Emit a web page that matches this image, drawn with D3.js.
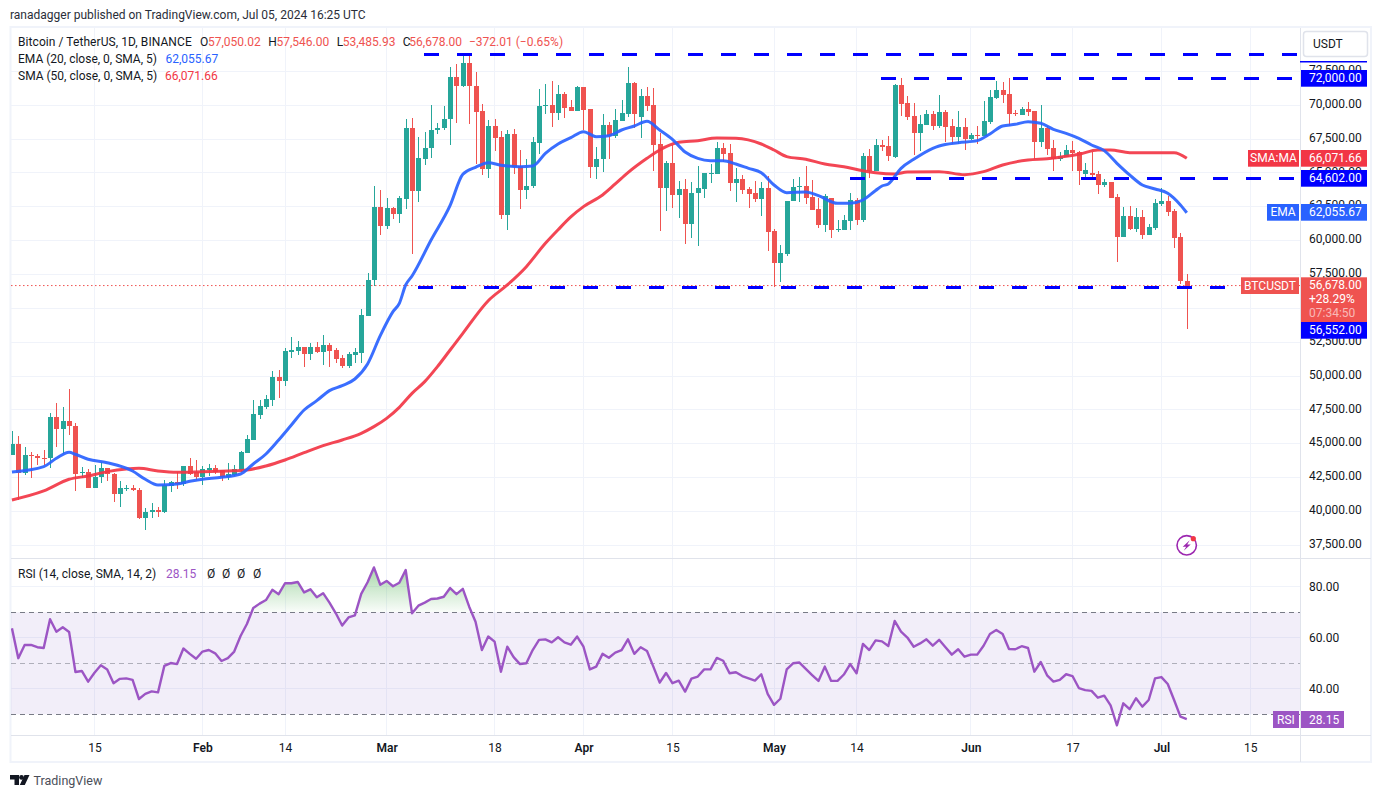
<!DOCTYPE html>
<html>
<head>
<meta charset="utf-8">
<script src="https://cdn.jsdelivr.net/npm/d3@7"></script>
<style>
  html, body { margin: 0; padding: 0; background: #fff; }
  svg { display: block; }
  text { font-family: Roboto, "Noto Sans", sans-serif; }
</style>
</head>
<body>
<script>
// daily BTCUSDT candles, first one is Jan 2 2024
const opens = [44170,44980,42865,44170,44120,43970,43950,46980,46090,46680,
  46310,42840,42890,41730,42550,43210,42770,41290,41690,41740,
  41580,39520,39960,40110,39960,41900,42180,42030,43360,42920,
  42550,43060,43210,43060,42550,42690,43060,44320,45280,47130,
  47710,48230,49930,49630,51800,51850,52120,51650,52120,51800,
  52290,51920,51300,50740,51550,51730,54460,57090,62460,61080,
  62410,61960,63080,68310,63660,66050,66810,68140,68310,68950,
  72080,71415,73113,71415,69570,65290,68460,67630,61915,67870,
  65510,63760,64000,67230,69940,70000,69420,70800,69860,69570,
  71340,69720,65460,66020,68530,67750,68860,69350,71640,69100,
  70680,70010,67130,63880,65730,63370,63790,61230,63490,63810,
  64940,64920,66840,66470,64250,64550,63810,63490,63070,63880,
  60710,58370,59040,62900,63930,64030,63240,62330,61150,63140,
  60790,60790,61470,62980,61520,66250,65160,67060,67000,66200,
  71490,70160,69200,67970,68530,69320,68490,69500,68460,67650,
  68390,67500,67770,67720,68760,70530,71120,70830,69420,69270,
  69710,69570,67280,68310,66840,66030,66150,66690,66540,64920,
  65000,64920,64100,64330,63220,60270,61820,60860,61740,60420,
  60930,62700,62930,62190,60270,57050.02];
const highs = [45940,45570,44760,44390,44240,44540,47270,48010,47710,49040,
  46530,43280,43140,43430,43650,43210,42840,42250,41930,41930,
  41730,40260,40630,40330,42320,42250,42910,43360,43950,43800,
  43360,43510,43430,43060,43580,43430,44470,45640,48230,48230,
  48600,50370,50440,52050,52860,52590,52120,52410,52490,53000,
  52410,52040,51530,51750,52050,54920,57580,64030,63750,63150,
  62460,63300,69000,69050,67630,68020,70010,68670,69940,72820,
  73040,73700,73777,72450,70090,68900,68950,68120,68170,68220,
  66690,66050,67620,71170,71560,71760,71460,71000,70380,71420,
  71340,69720,66930,69340,68780,69690,70380,72790,71740,71190,
  71320,71240,67920,65880,67060,64420,64530,64300,65510,65000,
  65660,67310,67180,67110,65340,64840,63960,64400,64300,64770,
  60830,59680,62900,64520,64670,65510,64470,63120,63440,63150,
  61500,61870,63490,63150,66440,66760,67500,67430,67720,71570,
  71980,70680,70160,69270,69640,69570,70750,69650,68980,69570,
  69050,67950,68460,70310,71120,71760,71690,72000,69640,69860,
  70230,69570,70010,68460,67430,66540,67060,67350,66620,65730,
  66540,65140,64550,64330,63440,62480,62550,62410,62260,61230,
  63070,63890,63300,62330,60560,57546];
const lows = [44170,40850,42690,42470,43430,43430,43210,44760,44240,45650,
  41510,42450,41730,41730,42080,42250,40700,40330,41510,41510,
  39450,38660,39520,39590,39890,41440,41660,41880,42690,42320,
  41950,42620,42770,42250,42320,42620,42910,44320,45280,46830,
  47570,47790,48380,49260,51330,51560,50690,51180,51730,50810,
  50690,50990,50620,50620,50940,50990,54460,56650,60420,60830,
  61590,61320,62340,59010,62880,65600,66120,67870,68170,67080,
  68710,71350,68610,65660,64850,64600,66620,61620,60810,64900,
  62360,63100,63860,66400,69350,68390,68900,69050,69570,69570,
  68170,64620,64560,65060,66030,67550,68860,69100,68290,67580,
  69590,65140,60710,62190,62380,61670,59750,60200,59630,63120,
  64270,64920,65800,63690,62870,63420,62430,62850,61820,59260,
  56600,56970,58890,62900,62850,62730,62260,60930,60640,60190,
  60630,60780,60780,61150,61400,64620,65160,66640,65900,66130,
  69200,68900,66320,66640,68530,68170,68310,67260,67130,67130,
  66690,67430,67130,67720,68610,70460,70160,68460,69200,69250,
  69200,66020,66910,66320,65140,65880,66150,65140,64110,64700,
  64620,63440,63960,63150,58420,60270,60780,60640,60120,60420,
  60780,62560,61820,59450,56800,53485.93];
const closes = [44980,42865,44170,44120,43970,43950,46980,46090,46680,46310,
  42770,42890,41730,42550,43210,42770,41290,41730,41740,41580,
  39520,39960,40110,39960,41960,42180,42030,43360,42770,42550,
  43110,43210,42910,42550,42770,43130,44390,45350,47200,47790,
  48300,49930,49630,51850,51950,52120,51650,52120,51770,52290,
  51850,51280,50740,51600,51770,54480,57090,62460,61080,62410,
  61960,63150,68310,63660,66100,66810,68140,68310,68950,72060,
  71430,73113,71380,69520,65290,68460,67550,61915,67870,65460,
  63760,64030,67280,69940,70000,69420,70800,69790,69570,71340,
  69640,65460,66020,68530,67750,68900,69420,71640,69350,70680,
  69940,67080,63880,65730,63370,63790,61230,63490,63880,64990,
  64960,66840,66390,64250,64550,63740,63470,63070,63880,60630,
  58370,59060,62900,63930,64030,63170,62260,61150,63270,60790,
  60860,61520,62980,61520,66250,65160,67060,66940,66250,71490,
  70090,69150,67970,68610,69320,68490,69500,68390,67650,68390,
  67500,67800,67720,68830,70600,71120,70750,69350,69370,69710,
  69490,67280,68310,66760,66030,66250,66690,66470,65140,65210,
  64850,64100,64330,63150,60270,61820,60860,61740,60420,61000,
  62780,62930,62110,60190,57020,56678];

// moving averages, at these bar numbers
const emaBars = [0,5,7,9,10,12,15,19,21,23,26,28,30,33,36,38,40,42,44,46,48,50,52,54,56,58,60,61,62,63,
  66,69,71,73,75,77,80,82,84,86,88,90,92,94,96,98,100,102,104,106,108,110,112,114,116,118,120,122,125,127,
  130,132,134,136,137,138,140,142,145,146,149,152,154,156,158,160,162,164,166,168,170,172,174,176,178,180,182,184,185];
const emaValues = [42915,43310,43923,44366,44220,43850,43600,42990,42373,41955,42030,42225,42373,42520,42767,43505,44243,45277,46384,47492,
  48180,48919,49288,49780,50888,52980,54752,55367,56720,57385,
  60046,62600,64900,65410,65754,65560,65460,65510,66443,67133,
  67600,68043,67674,67748,68166,68462,68806,68166,67477,66542,
  66074,65902,65902,65656,65336,65016,64106,63540,63589,63318,
  62752,62752,62998,63700,64033,64180,65337,66001,66813,66986,
  67232,67379,67872,68462,68585,68782,68659,68216,67921,67552,
  67059,66641,65706,64845,64106,63811,63491,62630,62055.67];
const smaBars = [0,5,9,12,15,18,20,23,26,30,34,37,40,43,46,49,52,55,57,59,61,63,65,67,69,71,
  75,78,81,84,86,88,90,93,95,97,100,102,105,108,111,114,118,120,122,125,128,131,134,136,139,141,146,150,
  153,156,160,163,168,171,173,176,181,183,185];
const smaValues = [40847,41512,42373,42619,42939,43136,43185,42988,42890,42939,42988,43062,43358,43800,44342,44859,45277,45769,46261,46876,
  47689,48722,49584,50691,51922,53150,55560,56722,58076,59800,60800,61750,62506,63367,64179,65016,66074,66690,67256,67379,
  67576,67551,67133,66690,66197,66000,65656,65459,65164,65017,64918,65066,65091,64869,65091,65583,65952,66051,66370,66690,
  66690,66494,66494,66494,66071.66];

const rsiValues = [63.7,52,57.2,57.2,56.3,56,67.3,62.4,64.1,62.3,
  46.6,47,42.8,46.3,49.2,47.6,42.2,43.9,44.1,43.5,
  36,38,39,38.6,49,50.1,49.7,55.8,53.7,51.8,
  54.6,55.2,53.9,50.9,52,54.6,60.7,65.4,71.7,73.4,
  74.8,78.8,77.1,81.4,81.4,81.9,77.8,79,75.9,77.5,
  73.8,69.6,64.8,68,68.8,77.2,81.8,87.6,80.8,82.3,
  80.2,81.6,86.6,69.6,72.6,73.8,75.2,75.4,76.1,79.5,
  77.1,79.2,72.2,66.3,55.2,60.5,58.5,46.7,56.5,52.4,
  49.7,50,55.2,59.2,59.4,58.2,60.2,58.2,57.3,60.5,
  56.5,47.6,48.7,53.7,52.2,54.2,55.2,59.4,53.7,56.3,
  54.8,48.7,42.4,46.2,42.2,43.2,38.9,44,44.8,47.6,
  47.6,52.1,51,46.1,46.5,45,44.1,43.2,45.7,38,
  33.7,36.1,47.6,50,50.3,47.8,45.4,43.1,48.7,43.1,
  43.1,45.6,49.7,46.1,57.6,55.2,59,58.6,56.8,66.6,
  62.4,60.1,56.5,57.8,59.4,56.9,59.2,56.3,53.4,55.5,
  52.6,53.4,53.4,56.9,61.5,63.1,61.5,55.6,55.5,56.7,
  56,46.7,50.5,45.3,42.8,43.5,45.7,45,40.3,39.5,
  39.2,36.5,37.3,33.5,25.7,34.3,32,36.3,33,35.6,
  44.1,44.6,41.9,35.6,29.1,28.15];

const priceTicks = [37500,40000,42500,45000,47500,50000,52500,55000,57500,60000,62500,65000,67500,70000,72500];
const hiddenTicks = [55000]; // sits fully behind the last price tag
const rsiTicks = [40,60,80];
const rsiBands = [30,50,70];
const timeTicks = ["2024-01-15","2024-02-01","2024-02-14","2024-03-01","2024-03-18","2024-04-01",
  "2024-04-15","2024-05-01","2024-05-14","2024-06-01","2024-06-17","2024-07-01","2024-07-15"];
const timeLabels = ["15","Feb","14","Mar","18","Apr","15","May","14","Jun","17","Jul","15"];

// horizontal levels somebody drew by hand
const levelPrices = [73755,72000,64602,56552];
const levelX = [424,881,850,418];

const lastPrice = 56678, emaLast = 62055.67, smaLast = 66071.66, rsiLast = 28.15;

const W = 1382, H = 798;
const plotL = 11, plotR = 1300, axisR = 1371, mainT = 28, mainB = 558, rsiB = 735, frameB = 762;

const fmt = d3.format(",.2f");
const day0 = Date.UTC(2024, 0, 2);
const dateOf = i => new Date(day0 + i * 864e5);
const parse = s => new Date(s + "T00:00:00Z");

const x = d3.scaleUtc().domain([parse("2024-01-15"), parse("2024-07-15")]).range([94.5, 1250.3]);
const y = d3.scaleLinear().domain([37500, 72500]).range([545.3, 71.3]);
const yr = d3.scaleLinear().domain([30, 70]).range([714.3, 612.3]);

const svg = d3.select("body").append("svg").attr("width", W).attr("height", H);
const defs = svg.append("defs");
defs.append("clipPath").attr("id", "mainClip").append("rect")
  .attr("x", plotL).attr("y", mainT).attr("width", plotR - plotL).attr("height", mainB - mainT);
defs.append("clipPath").attr("id", "rsiClip").append("rect")
  .attr("x", plotL).attr("y", mainB).attr("width", plotR - plotL).attr("height", rsiB - mainB);
// green fill only above the 70 line
defs.append("clipPath").attr("id", "obClip").append("rect")
  .attr("x", plotL).attr("y", mainB).attr("width", plotR - plotL).attr("height", yr(70) - mainB);
const grad = defs.append("linearGradient").attr("id", "obGrad")
  .attr("gradientUnits", "userSpaceOnUse").attr("x1", 0).attr("x2", 0).attr("y1", yr(88)).attr("y2", yr(70));
grad.append("stop").attr("offset", 0).attr("stop-color", "#4caf50").attr("stop-opacity", 0.5);
grad.append("stop").attr("offset", 1).attr("stop-color", "#4caf50").attr("stop-opacity", 0.03);

const grid = "#f0f3fa", sep = "#e0e3eb", textCol = "#131722";
const up = "#26a69a", down = "#ef5350", emaCol = "#2962ff", smaCol = "#f23645", rsiCol = "#9c55c4", levelCol = "#0000ff";

// frame
svg.append("rect").attr("x", 10.5).attr("y", 27).attr("width", axisR - 10.5).attr("height", frameB - 27)
  .attr("fill", "#fff").attr("stroke", grid).attr("stroke-width", 2);

// grid
const gridG = svg.append("g").attr("shape-rendering", "crispEdges");
gridG.selectAll(".vg").data(timeTicks).join("line")
  .attr("x1", d => x(parse(d))).attr("x2", d => x(parse(d)))
  .attr("y1", mainT).attr("y2", rsiB).attr("stroke", grid);
gridG.selectAll(".hg").data(priceTicks).join("line")
  .attr("x1", plotL).attr("x2", plotR).attr("y1", d => y(d)).attr("y2", d => y(d)).attr("stroke", grid);
gridG.selectAll(".rg").data(rsiTicks).join("line")
  .attr("x1", plotL).attr("x2", plotR).attr("y1", d => yr(d)).attr("y2", d => yr(d)).attr("stroke", grid);

// pane separators
gridG.append("line").attr("x1", plotL).attr("x2", axisR).attr("y1", mainB).attr("y2", mainB).attr("stroke", sep);
gridG.append("line").attr("x1", plotL).attr("x2", axisR).attr("y1", rsiB).attr("y2", rsiB).attr("stroke", sep);
gridG.append("line").attr("x1", plotR).attr("x2", plotR).attr("y1", mainT).attr("y2", frameB).attr("stroke", sep);

// main pane
const main = svg.append("g").attr("clip-path", "url(#mainClip)");

main.append("line").attr("x1", plotL).attr("x2", plotR).attr("y1", y(lastPrice)).attr("y2", y(lastPrice))
  .attr("stroke", down).attr("stroke-dasharray", "1.5 2.5");

const bars = d3.range(closes.length);
const candle = main.append("g").attr("shape-rendering", "crispEdges");
candle.selectAll(".wick").data(bars).join("line")
  .attr("x1", i => Math.round(x(dateOf(i))) + 0.5).attr("x2", i => Math.round(x(dateOf(i))) + 0.5)
  .attr("y1", i => y(highs[i])).attr("y2", i => y(lows[i]))
  .attr("stroke", i => closes[i] >= opens[i] ? up : down);
candle.selectAll(".body").data(bars).join("rect")
  .attr("x", i => Math.round(x(dateOf(i))) - 2).attr("width", 5)
  .attr("y", i => y(Math.max(opens[i], closes[i])))
  .attr("height", i => Math.max(1, Math.abs(y(opens[i]) - y(closes[i]))))
  .attr("fill", i => closes[i] >= opens[i] ? up : down);

const maLine = vals => d3.line().curve(d3.curveMonotoneX).x(i => x(dateOf(i))).y((i, k) => y(vals[k]));
main.append("path").attr("d", maLine(smaValues)(smaBars)).attr("fill", "none")
  .attr("stroke", smaCol).attr("stroke-width", 3).attr("stroke-linejoin", "round").attr("opacity", 0.92);
main.append("path").attr("d", maLine(emaValues)(emaBars)).attr("fill", "none")
  .attr("stroke", emaCol).attr("stroke-width", 3).attr("stroke-linejoin", "round").attr("opacity", 0.92);

// hand drawn levels
const levelG = svg.append("g").attr("shape-rendering", "crispEdges");
levelG.selectAll("line").data(levelPrices).join("line")
  .attr("x1", (d, i) => levelX[i]).attr("x2", plotR - 3)
  .attr("y1", d => y(d)).attr("y2", d => y(d))
  .attr("stroke", levelCol).attr("stroke-width", 3).attr("stroke-dasharray", "15 18");

// rsi pane
const rsi = svg.append("g").attr("clip-path", "url(#rsiClip)");
rsi.append("rect").attr("x", plotL).attr("width", plotR - plotL)
  .attr("y", yr(70)).attr("height", yr(30) - yr(70)).attr("fill", "#7e57c2").attr("fill-opacity", 0.1);
rsi.selectAll(".band").data(rsiBands).join("line")
  .attr("x1", plotL).attr("x2", plotR).attr("y1", d => yr(d)).attr("y2", d => yr(d))
  .attr("stroke", "#787b86").attr("stroke-dasharray", "5 4").attr("stroke-opacity", d => d === 50 ? 0.55 : 1)
  .attr("shape-rendering", "crispEdges");
const rx = (d, i) => x(dateOf(i));
const clipOb = rsi.append("g").attr("clip-path", "url(#obClip)");
clipOb.append("path").attr("fill", "url(#obGrad)")
  .attr("d", d3.area().x(rx).y0(yr(70)).y1(d => yr(d))(rsiValues));
rsi.append("path").attr("fill", "none").attr("stroke", rsiCol).attr("stroke-width", 2.4)
  .attr("stroke-linejoin", "round").attr("d", d3.line().x(rx).y(d => yr(d))(rsiValues));

// axes, price labels sit about 2px above their grid line
const priceAxis = d3.axisRight(y).tickValues(priceTicks.filter(d => !hiddenTicks.includes(d)))
  .tickSize(0).tickPadding(0).tickFormat(fmt);
const pa = svg.append("g").attr("transform", "translate(1309,-1.7)").call(priceAxis);
pa.select(".domain").remove();
pa.selectAll("text").attr("font-size", 12).attr("fill", textCol).attr("font-family", null);

const rsiAxis = d3.axisRight(yr).tickValues(rsiTicks).tickSize(0).tickPadding(0).tickFormat(d3.format(".2f"));
const ra = svg.append("g").attr("transform", "translate(1309,0)").call(rsiAxis);
ra.select(".domain").remove();
ra.selectAll("text").attr("font-size", 12).attr("fill", textCol).attr("font-family", null);

const timeAxis = d3.axisBottom(x).tickValues(timeTicks.map(parse)).tickSize(0).tickPadding(0)
  .tickFormat((d, i) => timeLabels[i]);
const ta = svg.append("g").attr("transform", "translate(0,743)").call(timeAxis);
ta.select(".domain").remove();
ta.selectAll("text").attr("font-size", 12).attr("fill", textCol).attr("font-family", null)
  .attr("font-weight", (d, i) => isNaN(+timeLabels[i]) ? 600 : 400);

// little helper for text
function label(t, lx, ly, col, anchor, size, weight, op) {
  return svg.append("text").attr("x", lx).attr("y", ly).attr("fill", col || textCol)
    .attr("text-anchor", anchor || "start").attr("dominant-baseline", "central")
    .attr("font-size", size || 12).attr("font-weight", weight || 400)
    .attr("fill-opacity", op == null ? 1 : op).text(t);
}
function box(bx, by, bw, bh, col) {
  svg.append("rect").attr("x", bx).attr("y", by).attr("width", bw).attr("height", bh).attr("fill", col);
}

// price scale tags
svg.append("rect").attr("x", 1300).attr("y", 61).attr("width", 67).attr("height", 1.5).attr("fill", levelCol);
box(1301, 70, 66, 16.7, levelCol); label(fmt(levelPrices[1]), 1309, 78, "#fff");
box(1301, 170, 66, 16.7, levelCol); label(fmt(levelPrices[2]), 1309, 178, "#fff");
box(1301, 322, 66, 16.7, levelCol); label(fmt(levelPrices[3]), 1309, 330, "#fff");

box(1248, 150, 51, 16.7, smaCol); label("SMA:MA", 1273.5, 158, "#fff", "middle");
box(1301, 150, 66, 16.7, smaCol); label(fmt(smaLast), 1309, 158, "#fff");

box(1267, 204, 32, 16.7, emaCol); label("EMA", 1283, 212, "#fff", "middle");
box(1301, 204, 66, 16.7, emaCol); label(fmt(emaLast), 1309, 212, "#fff");

box(1241, 277.3, 58, 16.7, down); label("BTCUSDT", 1270, 285.5, "#fff", "middle");
box(1301, 277.3, 66, 44.7, down);
label(fmt(lastPrice), 1309, 285, "#fff");
label("+28.29%", 1309, 298.5, "#fff");
label("07:34:50", 1309, 312.5, "#fff", "start", 12, 400, 0.6);

box(1273, 711, 26, 17, rsiCol); label("RSI", 1286, 719.5, "#fff", "middle");
box(1301, 711, 43, 17, rsiCol); label(d3.format(".2f")(rsiLast), 1309, 719.5, "#fff");

// currency button
svg.append("rect").attr("x", 1303.5).attr("y", 31.5).attr("width", 64).attr("height", 25).attr("rx", 3)
  .attr("fill", "#fff").attr("stroke", sep).attr("stroke-width", 1.5);
label("USDT", 1313, 44);

// header + legend
label("ranadagger published on TradingView.com, Jul 05, 2024 16:25 UTC", 10, 15, "#2a2e39");
label("Bitcoin / TetherUS, 1D, BINANCE", 18, 42).attr("letter-spacing", 0.07);
const ohlcNames = ["O", "H", "L", "C"];
const ohlcVals = [opens[185], highs[185], lows[185], closes[185]];
const ohlcX = [200, 268.3, 336.7, 402.7], ohlcValX = [208, 276.5, 342.7, 409.3];
ohlcNames.forEach((n, i) => {
  label(n, ohlcX[i], 42);
  label(fmt(ohlcVals[i]), ohlcValX[i], 42, down);
});
label("\u2212372.01 (\u22120.65%)", 469, 42, down);
label("EMA (20, close, 0, SMA, 5)", 18, 59);
label(fmt(emaLast), 165.5, 59, emaCol);
label("SMA (50, close, 0, SMA, 5)", 18, 76);
label(fmt(smaLast), 165, 76, smaCol);
label("RSI (14, close, SMA, 14, 2)", 18, 574);
label(d3.format(".2f")(rsiLast), 166, 574, rsiCol);
[207, 222, 237, 253].forEach(ox => label("\u00d8", ox, 574));

// lightning badge
const badge = svg.append("g").attr("transform", "translate(1186.7,545.3)");
badge.append("circle").attr("r", 9.7).attr("fill", "#fff").attr("stroke", "#9c27b0").attr("stroke-width", 1.6);
badge.append("path").attr("d", "M3 -5 L-4 1.5 L-0.5 1.5 L-3 5.5 L4 -0.8 L0.5 -0.8 Z").attr("fill", "#9c27b0");
badge.append("circle").attr("cx", 6.6).attr("cy", -6.6).attr("r", 2.6).attr("fill", "#f23645");

// tradingview logo
const logo = svg.append("g").attr("transform", "translate(10,775)").attr("fill", "#131722");
logo.append("path").attr("d", "M0 0 H9 V10 H4.5 V4.5 H0 Z");
logo.append("circle").attr("cx", 11.5).attr("cy", 2.4).attr("r", 2.4);
logo.append("path").attr("d", "M14.5 0 H19.5 L14.8 10 H9.8 Z");
label("TradingView", 33.5, 780.5, "#4a4e59", "start", 12.5);
</script>
</body>
</html>
